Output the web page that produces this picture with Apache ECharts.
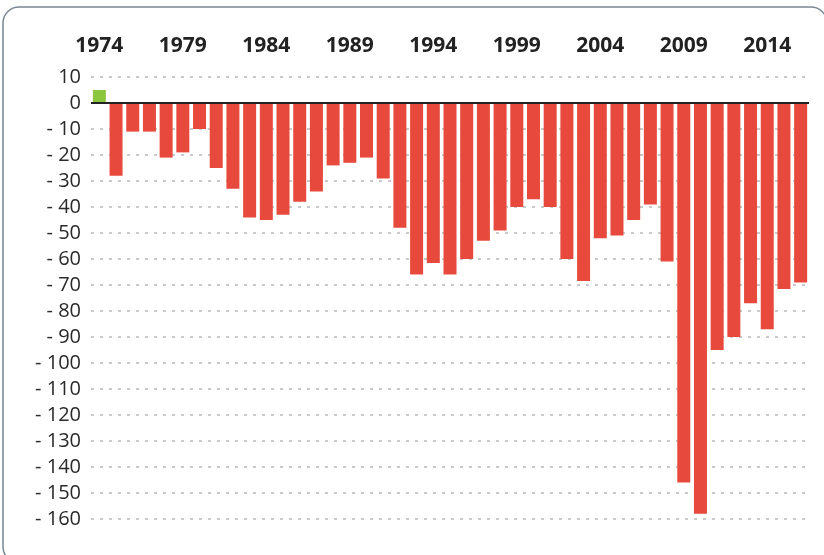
<!DOCTYPE html>
<html>
<head>
<meta charset="utf-8">
<script src="https://cdn.jsdelivr.net/npm/echarts@6/dist/echarts.min.js"></script>
<style>
  html, body { margin: 0; padding: 0; background: #fff; }
  #chart { width: 824px; height: 555px; }
</style>
</head>
<body>
<div id="chart"></div>
<script>
const years = [];
for (let y = 1974; y <= 2016; y++) years.push(String(y));

const values = [
  5, -28, -11, -11, -21, -19, -10, -25, -33, -44,
  -45, -43, -38, -34, -24, -23, -21, -29, -48, -66,
  -61.5, -66, -60, -53, -49, -40, -37, -40, -60, -68.5,
  -52, -51, -45, -39, -61, -146, -158, -95, -90, -77,
  -87, -71.5, -69
];

const yMin = -160;
const yMax = 10;
const yStep = 10;

const chart = echarts.init(document.getElementById("chart"));
chart.setOption({
  animation: false,
  graphic: [
    {
      type: "rect",
      shape: { x: 3, y: 7, width: 824, height: 556, r: 16 },
      style: { fill: "none", stroke: "#7b8794", lineWidth: 1.5 },
      silent: true,
    },
  ],
  grid: { top: 77, right: 15, bottom: 36, left: 91 },
  xAxis: {
    type: "category",
    position: "top",
    data: years,
    axisLine: { show: false },
    axisTick: { show: false },
    axisLabel: {
      interval: 4,
      margin: 20,
      color: "#222",
      fontSize: 21,
      fontWeight: "bold",
      fontFamily: "Open Sans",
    },
  },
  yAxis: {
    type: "value",
    min: yMin,
    max: yMax,
    interval: yStep,
    axisLine: { show: false },
    axisTick: { show: false },
    axisLabel: {
      margin: 10,
      color: "#2a2a2a",
      fontSize: 20,
      fontFamily: "Open Sans",
      formatter: (v) => (v < 0 ? "- " + Math.abs(v) : String(v)),
    },
    splitLine: {
      lineStyle: { color: "#b8b8b8", width: 1.5, type: [3, 6] },
    },
  },
  series: [
    {
      type: "bar",
      barWidth: 13,
      data: values.map((v) => ({
        value: v,
        itemStyle: { color: v >= 0 ? "#8cc63e" : "#e74a3d" },
      })),
      markLine: {
        silent: true,
        symbol: ["none", "none"],
        label: { show: false },
        lineStyle: { color: "#222", width: 2, type: "solid" },
        data: [{ yAxis: 0 }],
      },
    },
  ],
});
</script>
</body>
</html>
